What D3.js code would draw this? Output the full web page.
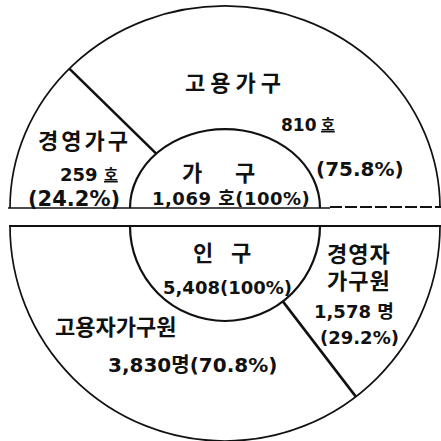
<!DOCTYPE html>
<html><head><meta charset="utf-8">
<script src="https://cdn.jsdelivr.net/npm/d3@7"></script>
<style>
html,body{margin:0;padding:0;background:#fff;}
text{font-family:"DejaVu Sans","Noto Sans CJK KR",sans-serif;fill:#111;}
</style></head>
<body>
<svg id="c" width="441" height="441"></svg>
<script>
// ---- data ----
const householdCats = ["경영가구", "고용가구"];
const householdVals = [259, 810];
const householdPct = [24.2, 75.8];
const householdTotal = 1069;
const popCats = ["경영자가구원", "고용자가구원"];
const popVals = [1578, 3830];
const popPct = [29.2, 70.8];
const popTotal = 5408;

const svg = d3.select("#c");
const fmt = d3.format(",");
const R = 215, r0 = 95;
const cx = 225, cyTop = 208, cyBot = 226;
const sOut = 0.94, sIn = 0.83;   // vertical squash of the upper half (as in the scan)

const arcRing = d3.arc().innerRadius(R).outerRadius(R);
const arcIn = d3.arc().innerRadius(r0).outerRadius(r0);

// ---- top half: households ----
const topPie = d3.pie().sort(null).startAngle(-Math.PI/2).endAngle(Math.PI/2);
const topArcs = topPie(householdVals);
svg.append("g").attr("transform",`translate(${cx},${cyTop}) scale(1,${sOut})`)
  .append("path").attr("d", arcRing({startAngle:-Math.PI/2,endAngle:Math.PI/2}))
  .attr("fill","none").attr("stroke","#111").attr("stroke-width",1.7)
  .attr("vector-effect","non-scaling-stroke");
svg.append("g").attr("transform",`translate(${cx},${cyTop}) scale(1,${sIn})`)
  .append("path").attr("d", arcIn({startAngle:-Math.PI/2,endAngle:Math.PI/2}))
  .attr("fill","none").attr("stroke","#111").attr("stroke-width",2.2)
  .attr("vector-effect","non-scaling-stroke");
topArcs.slice(0,-1).forEach(a=>{
  const p1=d3.pointRadial(a.endAngle,r0), p2=d3.pointRadial(a.endAngle,R);
  svg.append("line").attr("x1",cx+p1[0]).attr("y1",cyTop+p1[1]*sIn)
    .attr("x2",cx+p2[0]).attr("y2",cyTop+p2[1]*sOut)
    .attr("stroke","#111").attr("stroke-width",2.6);
});
svg.append("line").attr("x1",8).attr("x2",330).attr("y1",cyTop).attr("y2",cyTop)
  .attr("stroke","#111").attr("stroke-width",1.7);
svg.append("line").attr("x1",330).attr("x2",441).attr("y1",cyTop-1).attr("y2",cyTop-1)
  .attr("stroke","#111").attr("stroke-width",1.8).attr("stroke-dasharray","12,3");

// ---- bottom half: population ----
const botPie = d3.pie().sort(null).startAngle(Math.PI/2).endAngle(3*Math.PI/2);
const botArcs = botPie(popVals);
const gBot = svg.append("g").attr("transform",`translate(${cx},${cyBot})`);
gBot.append("path").attr("d", arcRing({startAngle:Math.PI/2,endAngle:3*Math.PI/2}))
  .attr("fill","none").attr("stroke","#111").attr("stroke-width",1.7);
gBot.append("path").attr("d", arcIn({startAngle:Math.PI/2,endAngle:3*Math.PI/2}))
  .attr("fill","none").attr("stroke","#111").attr("stroke-width",2.2);
botArcs.slice(0,-1).forEach(a=>{
  const p1=d3.pointRadial(a.endAngle,r0), p2=d3.pointRadial(a.endAngle,R);
  gBot.append("line").attr("x1",p1[0]).attr("y1",p1[1]).attr("x2",p2[0]).attr("y2",p2[1])
    .attr("stroke","#111").attr("stroke-width",2.6);
});
svg.append("line").attr("x1",9).attr("x2",441).attr("y1",cyBot).attr("y2",cyBot)
  .attr("stroke","#111").attr("stroke-width",1.8);

// ---- labels ----
function label(x,y,txt,size,anchor,ls){
  return svg.append("text").attr("x",x).attr("y",y).attr("text-anchor",anchor||"middle")
    .attr("font-size",size).attr("font-weight","bold").attr("letter-spacing",ls||0).text(txt);
}
// top
label(185,91,householdCats[1],22,"start",5);
label(281,131,fmt(householdVals[1]),17,"start");
label(321,130,"호",15,"start").attr("text-decoration","underline");
label(316,176,"("+householdPct[1].toFixed(1)+"%)",20,"start");
label(38,149,householdCats[0],22,"start",3);
label(60,181,fmt(householdVals[0]),18,"start");
label(104,180,"호",15,"start").attr("text-decoration","underline");
label(28,206,"("+householdPct[0].toFixed(1)+"%)",21,"start");
label(182,181,"가",22,"start");
label(235,181,"구",22,"start");
label(152,205,fmt(householdTotal)+" 호(100%)",18,"start",0.5);
// bottom
label(193,261,"인",22,"start");
label(231,261,"구",22,"start");
label(163,294,fmt(popTotal)+"(100%)",18,"start");
label(327,262,popCats[0].slice(0,3),22,"start",1);
label(327,289,popCats[0].slice(3),22,"start",1);
label(314,318,fmt(popVals[0])+" 명",18,"start");
label(320,344,"("+popPct[0].toFixed(1)+"%)",18,"start");
label(55,335,popCats[1],22,"start");
label(108,372,fmt(popVals[1])+"명("+popPct[1].toFixed(1)+"%)",20,"start");
</script>
</body></html>
